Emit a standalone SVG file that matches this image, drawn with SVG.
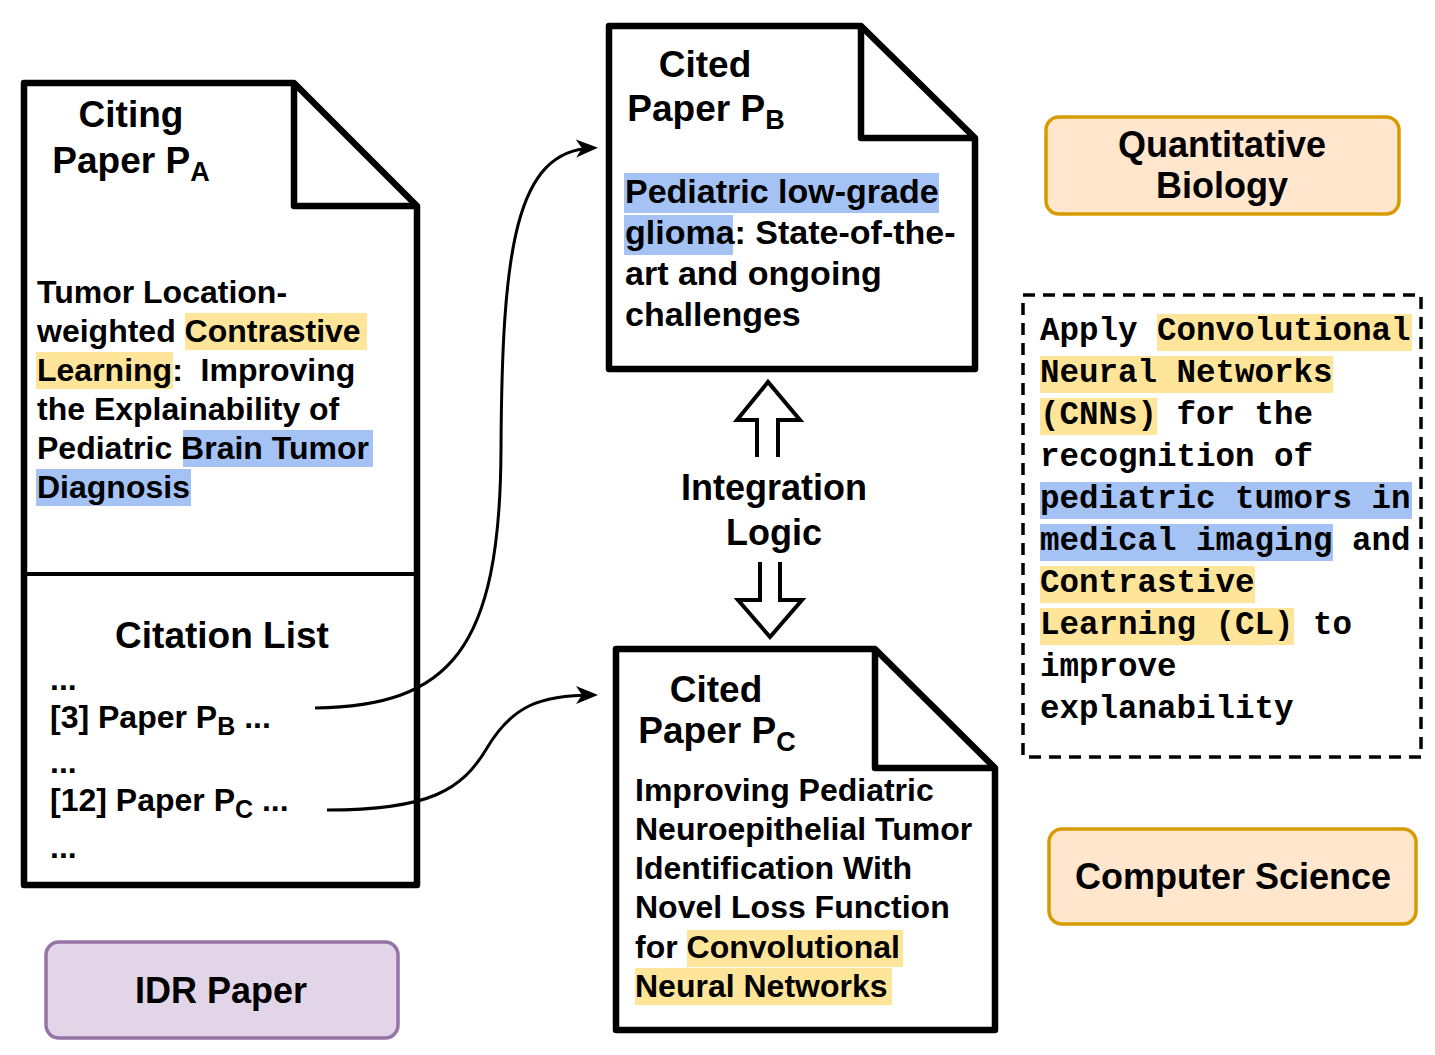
<svg xmlns="http://www.w3.org/2000/svg" width="1435" height="1055" viewBox="0 0 1435 1055">
<style>
.doc{fill:#ffffff;stroke:#000;stroke-width:6.5;stroke-linejoin:round}
.fold{fill:none;stroke:#000;stroke-width:6.5;stroke-linejoin:round}
.t{font-family:"Liberation Sans",Arial,sans-serif;font-weight:bold;fill:#000}
.title{font-size:37px;text-anchor:middle}
.sub{font-size:27px}
.m{font-family:"Liberation Mono","Courier New",monospace;font-weight:bold;font-size:32.5px;fill:#000}
.hy{fill:#ffe599}
.hb{fill:#a4c2f4}
.conn{fill:none;stroke:#000;stroke-width:3}
.hollow{fill:#fff;stroke:#000;stroke-width:4;stroke-linejoin:miter}
.tag{stroke-width:3.5}
</style>
<defs>
<marker id="arr" markerUnits="userSpaceOnUse" markerWidth="24" markerHeight="20" viewBox="0 0 24 20" refX="17" refY="10" orient="auto">
<path d="M0,1 L22,10 L0,19 L6,10 Z" fill="#000"/>
</marker>
</defs>

<g id="citing-paper">
<path class="doc" d="M24,83 L294,83 L417,206 L417,885 L24,885 Z"/>
<path class="fold" d="M294,83 L294,206 L417,206"/>
<line x1="24" y1="574" x2="417" y2="574" stroke="#000" stroke-width="4"/>
<text class="t title" x="131" y="127">Citing</text>
<text class="t title" x="131" y="173">Paper P<tspan class="sub" dy="8">A</tspan></text>
<rect class="hy" x="185" y="313" width="182" height="37"/>
<rect class="hy" x="36" y="352" width="137" height="37"/>
<rect class="hb" x="183" y="430" width="190" height="37"/>
<rect class="hb" x="36" y="469" width="155" height="37"/>
<g class="t" font-size="32">
<text x="37" y="303">Tumor Location-</text>
<text x="37" y="342">weighted Contrastive</text>
<text x="37" y="381" xml:space="preserve">Learning:  Improving</text>
<text x="37" y="420">the Explainability of</text>
<text x="37" y="459">Pediatric Brain Tumor</text>
<text x="37" y="498">Diagnosis</text>
</g>
<text class="t" x="222" y="648" font-size="37" text-anchor="middle">Citation List</text>
<g class="t" font-size="32">
<text x="50" y="690">...</text>
<text x="50" y="728">[3] Paper P<tspan font-size="25" dy="7">B</tspan><tspan dy="-7"> ...</tspan></text>
<text x="50" y="773">...</text>
<text x="50" y="811">[12] Paper P<tspan font-size="25" dy="7">C</tspan><tspan dy="-7"> ...</tspan></text>
<text x="50" y="858">...</text>
</g>
</g>

<g id="cited-paper-b">
<path class="doc" d="M609,26 L861,26 L975,138 L975,369 L609,369 Z"/>
<path class="fold" d="M861,26 L861,138 L975,138"/>
<text class="t title" x="705" y="77">Cited</text>
<text class="t title" x="706" y="121">Paper P<tspan class="sub" dy="8">B</tspan></text>
<rect class="hb" x="624" y="173" width="315" height="40"/>
<rect class="hb" x="624" y="215" width="109" height="40"/>
<g class="t" font-size="34">
<text x="625" y="203">Pediatric low-grade</text>
<text x="625" y="244">glioma: State-of-the-</text>
<text x="625" y="285">art and ongoing</text>
<text x="625" y="326">challenges</text>
</g>
</g>

<g id="cited-paper-c">
<path class="doc" d="M616,649 L875,649 L995,768 L995,1030 L616,1030 Z"/>
<path class="fold" d="M875,649 L875,768 L995,768"/>
<text class="t title" x="716" y="702">Cited</text>
<text class="t title" x="717" y="743">Paper P<tspan class="sub" dy="8">C</tspan></text>
<rect class="hy" x="687" y="930" width="216" height="37"/>
<rect class="hy" x="635" y="968" width="257" height="37"/>
<g class="t" font-size="32">
<text x="635" y="801">Improving Pediatric</text>
<text x="635" y="840">Neuroepithelial Tumor</text>
<text x="635" y="879">Identification With</text>
<text x="635" y="918">Novel Loss Function</text>
<text x="635" y="958">for Convolutional</text>
<text x="635" y="997">Neural Networks</text>
</g>
</g>

<g id="integration-logic">
<path class="hollow" d="M757,457 L757,420 L737,420 L768,382 L800,420 L778,420 L778,457"/>
<path class="hollow" d="M760,562 L760,600 L738,600 L770,637 L802,600 L780,600 L780,562"/>
<text class="t" x="774" y="500" font-size="36" text-anchor="middle">Integration</text>
<text class="t" x="774" y="545" font-size="36" text-anchor="middle">Logic</text>
</g>

<g id="quantitative-biology">
<rect class="tag" x="1046" y="117" width="353" height="97" rx="13" fill="#ffe6cc" stroke="#d79b00"/>
<text class="t" x="1222" y="157" font-size="36" text-anchor="middle">Quantitative</text>
<text class="t" x="1222" y="198" font-size="36" text-anchor="middle">Biology</text>
</g>

<g id="integration-summary">
<rect x="1023" y="295" width="398" height="462" fill="none" stroke="#000" stroke-width="3.5" stroke-dasharray="12 8"/>
<rect class="hy" x="1157" y="314" width="255" height="37"/>
<rect class="hy" x="1040" y="356" width="293" height="37"/>
<rect class="hy" x="1040" y="398" width="117" height="37"/>
<rect class="hb" x="1040" y="482" width="372" height="37"/>
<rect class="hb" x="1040" y="524" width="293" height="37"/>
<rect class="hy" x="1040" y="566" width="215" height="37"/>
<rect class="hy" x="1040" y="608" width="254" height="37"/>
<g class="m">
<text x="1040" y="340">Apply Convolutional</text>
<text x="1040" y="382">Neural Networks</text>
<text x="1040" y="424">(CNNs) for the</text>
<text x="1040" y="466">recognition of</text>
<text x="1040" y="508">pediatric tumors in</text>
<text x="1040" y="550">medical imaging and</text>
<text x="1040" y="592">Contrastive</text>
<text x="1040" y="634">Learning (CL) to</text>
<text x="1040" y="676">improve</text>
<text x="1040" y="718">explanability</text>
</g>
</g>

<g id="computer-science">
<rect class="tag" x="1049" y="829" width="367" height="95" rx="13" fill="#ffe6cc" stroke="#d79b00"/>
<text class="t" x="1233" y="889" font-size="36" text-anchor="middle">Computer Science</text>
</g>

<g id="idr-paper">
<rect x="46" y="942" width="352" height="96" rx="13" fill="#e1d5e7" stroke="#9673a6" stroke-width="3.5"/>
<text class="t" x="221" y="1003" font-size="36" text-anchor="middle">IDR Paper</text>
</g>

<g id="connectors">
<path class="conn" marker-end="url(#arr)" d="M315,708 C450,706 500,650 501,450 C502,250 515,150 593,148"/>
<path class="conn" marker-end="url(#arr)" d="M327,810 C430,810 462,790 487,748 C512,706 540,695 593,695"/>
</g>
</svg>
